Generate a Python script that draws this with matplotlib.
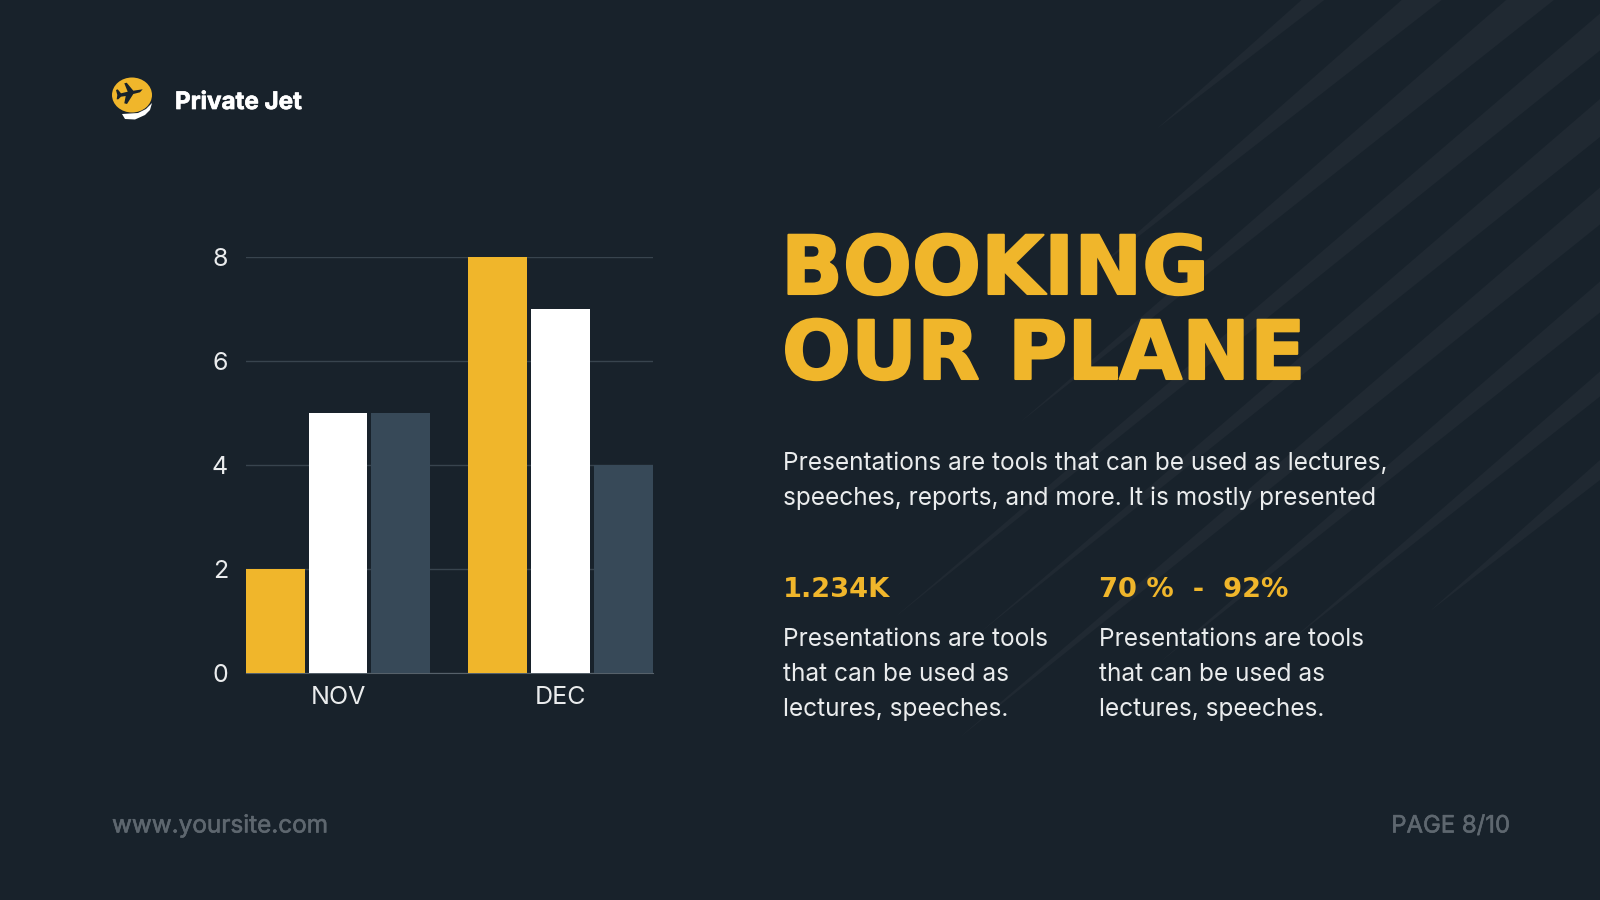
# Booking slide: grouped bars on the left, headline and stats on the right
import matplotlib
matplotlib.use('Agg')
import matplotlib.pyplot as plt
import matplotlib.patheffects as pe
from matplotlib.patches import Polygon, Ellipse

# chart data
months = ['NOV', 'DEC']
yellow_vals = [2, 8]
white_vals = [5, 7]
slate_vals = [5, 4]
y_ticks = [0, 2, 4, 6, 8]

# colours
BG = '#18222b'
YELLOW = '#f0b62b'
WHITE = '#ffffff'
SLATE = '#374958'
GRID = '#38444e'
STRIPE = '#202932'
FOOT = '#5e676f'
BODY = '#eaeced'

# background stripes as (line offset, tail x, end x, width at end), all at one slope
SLOPE = 0.83
stripes = [
  (1089, 1157, 1330, 21),
  (1179, 1090, 1450, 36),
  (1269, 1020, 1560, 42),
  (1360, 893, 1600, 37),
  (1446, 980, 1600, 38),
  (1534, 958, 1600, 37),
  (1625, 1160, 1600, 31),
  (1712, 1290, 1600, 25),
  (1798, 1430, 1600, 20),
]

W, H = 1600, 900
fig = plt.figure(figsize=(W/100, H/100), dpi=100, facecolor=BG)

# full slide overlay in pixel coordinates for stripes, logo and text
bg = fig.add_axes([0, 0, 1, 1])
bg.set_xlim(0, W)
bg.set_ylim(H, 0)
bg.axis('off')

for c, tx, ex, w in stripes:
  tail = (tx, c-SLOPE*tx)
  ey = c-SLOPE*ex
  bg.add_patch(Polygon([tail, (ex, ey-w/2), (ex, ey+w/2)], closed=True, fc=STRIPE, ec='none', zorder=1))

# logo
bg.add_patch(Ellipse((132, 95), 40, 35, fc=YELLOW, ec='none', zorder=3))
bg.add_patch(Polygon([(122, 114), (138, 113), (146, 109), (152, 103), (150, 110), (145, 115), (135, 119.5), (125, 119)],
  closed=True, fc=WHITE, ec='none', zorder=4))
plane = [(142.7, 89.3), (133.3, 90.7), (126.7, 82.7), (124.3, 83.3), (127.7, 91.7), (121, 93.3), (117.7, 89.3), (116, 90),
  (117.3, 95), (116.7, 99.3), (118.3, 99.3), (121, 96.7), (125.7, 96), (124.3, 103.3), (127, 104), (133.3, 94), (140, 92.3)]
bg.add_patch(Polygon(plane, closed=True, fc=BG, ec='none', zorder=5))

# bar chart axes
left, right, top, bottom = 246, 653, 257.3, 672.7
ax = fig.add_axes([left/W, 1-bottom/H, (right-left)/W, (bottom-top)/H], facecolor='none')
x = [0, 1]
step = 0.2813
bw = 0.265
ax.bar([i-step for i in x], yellow_vals, bw, color=YELLOW, zorder=3)
ax.bar(x, white_vals, bw, color=WHITE, zorder=3)
ax.bar([i+step for i in x], slate_vals, bw, color=SLATE, zorder=3)
ax.set_xlim(-0.4135, 1.4157)
ax.set_ylim(0, 8)
ax.set_yticks(y_ticks)
ax.set_xticks(x)
ax.set_xticklabels(months)
ax.grid(axis='y', color=GRID, lw=1, zorder=1)
ax.set_axisbelow(True)
for s in ['top', 'left', 'right']:
  ax.spines[s].set_visible(False)
ax.spines['bottom'].set_color('#56616a')
ax.tick_params(axis='both', length=0, colors=BODY, labelsize=18, labelfontfamily='Inter')
ax.tick_params(axis='y', pad=13)
ax.tick_params(axis='x', pad=9.3)

# text block
def put(px, py, s, size, color, weight='normal', family='Inter', ha='left', thick=0):
  t = bg.text(px, py, s, fontsize=size, color=color, fontweight=weight, family=family, ha=ha, va='baseline', zorder=6)
  if thick:
    t.set_path_effects([pe.withStroke(linewidth=thick, foreground=color)])

put(175, 109, 'Private Jet', 17.4, WHITE, 'bold', thick=0.5)
put(781, 294, 'BOOKING', 58.5, YELLOW, 'bold', 'DejaVu Sans', thick=1.5)
put(782, 379, 'OUR PLANE', 58.5, YELLOW, 'bold', 'DejaVu Sans', thick=1.5)

put(783, 470, 'Presentations are tools that can be used as lectures,', 17.6, BODY)
put(783, 505, 'speeches, reports, and more. It is mostly presented', 17.6, BODY)

put(783, 597, '1.234K', 19.6, YELLOW, 'bold', 'DejaVu Sans')
put(1099, 597, '70 %  -  92%', 19.6, YELLOW, 'bold', 'DejaVu Sans')

for px in [783, 1099]:
  put(px, 646, 'Presentations are tools', 17.6, BODY)
  put(px, 681, 'that can be used as', 17.6, BODY)
  put(px, 716, 'lectures, speeches.', 17.6, BODY)

put(112, 832.5, 'www.yoursite.com', 17.5, FOOT, thick=0.4)
put(1510, 832.5, 'PAGE 8/10', 17.2, FOOT, ha='right', thick=0.4)

fig.savefig('out.png', dpi=100, facecolor=BG)
